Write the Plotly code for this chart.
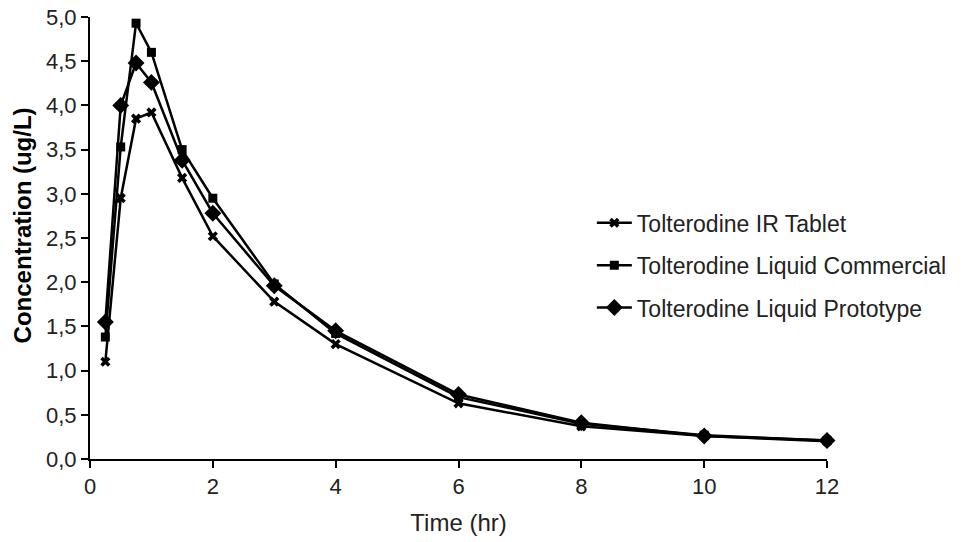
import plotly.graph_objects as go

time_hr = [0.25, 0.5, 0.75, 1, 1.5, 2, 3, 4, 6, 8, 10, 12]
ir_tablet = [1.10, 2.95, 3.85, 3.92, 3.18, 2.52, 1.78, 1.30, 0.63, 0.37, 0.26, 0.20]
liquid_commercial = [1.38, 3.53, 4.93, 4.60, 3.50, 2.95, 1.98, 1.42, 0.70, 0.40, 0.27, 0.21]
liquid_prototype = [1.55, 4.00, 4.48, 4.26, 3.38, 2.78, 1.96, 1.45, 0.73, 0.41, 0.26, 0.21]

names = ["Tolterodine IR Tablet", "Tolterodine Liquid Commercial", "Tolterodine Liquid Prototype"]
series = [ir_tablet, liquid_commercial, liquid_prototype]
symbols = ["x", "square", "diamond"]
sizes = [9, 9, 13]

fig = go.Figure()
for i, (n, s, sym, sz) in enumerate(zip(names, series, symbols, sizes)):
    fig.add_trace(go.Scatter(
        x=time_hr, y=s, name=n, mode="lines+markers",
        line=dict(color="black", width=2.5),
        marker=dict(symbol=sym, size=sz, color="black"),
        legendgroup=f"g{i}", cliponaxis=False,
    ))

font = "Liberation Sans, Arial, sans-serif"
fig.update_layout(
    width=963, height=542,
    margin=dict(l=90, r=135, t=17, b=83),
    paper_bgcolor="white", plot_bgcolor="white",
    separators=",.",
    font=dict(family=font, color="black", size=14),
    showlegend=True,
    legend=dict(x=0.68, y=0.583, xanchor="left", yanchor="top",
                font=dict(size=23, color="#222"), traceorder="grouped",
                itemwidth=35,
                tracegroupgap=9.5, bgcolor="rgba(0,0,0,0)"),
    xaxis=dict(range=[0, 12], dtick=2, tick0=0, showgrid=False, zeroline=False,
               showline=True, linecolor="black", linewidth=2, automargin=False,
               ticks="outside", ticklen=7, tickwidth=2, tickcolor="black",
               tickfont=dict(size=22, color="#222"),
               title=dict(text="Time (hr)", font=dict(size=24, color="#222"), standoff=16)),
    yaxis=dict(range=[0, 5], dtick=0.5, tick0=0, tickformat=".1f", showgrid=False,
               zeroline=False, showline=True, linecolor="black", linewidth=2, automargin=False,
               ticks="outside", ticklen=7, tickwidth=2, tickcolor="black",
               tickfont=dict(size=22, color="#222")),
    annotations=[dict(text="<b>Concentration (ug/L)</b>", xref="paper", yref="paper",
                      x=-0.092, y=0.529, textangle=-90, showarrow=False,
                      xanchor="center", yanchor="middle",
                      font=dict(size=24, color="black", family=font))],
)
fig.write_html("out.html")
